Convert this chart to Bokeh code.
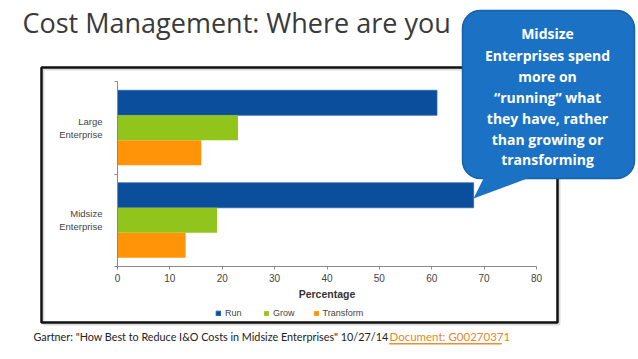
from bokeh.plotting import figure
from bokeh.models import (ColumnDataSource, Label, BoxAnnotation, Range1d,
                          PolyAnnotation, Legend, LegendItem, FixedTicker, LinearAxis)
from bokeh.transform import dodge
from bokeh.embed import file_html
from bokeh.resources import INLINE

# ---- data ----
categories = ["Large\nEnterprise", "Midsize\nEnterprise"]
run = [61, 68]
grow = [23, 19]
transform = [16, 13]
x_ticks = [0, 10, 20, 30, 40, 50, 60, 70, 80]
series_names = ["Run", "Grow", "Transform"]

title_text = "Cost Management: Where are you"
callout_lines = ["Midsize", "Enterprises spend", "more on",
                 "\u201crunning\u201d what", "they have, rather",
                 "than growing or", "transforming"]
footer_text = "Gartner:  \"How Best to Reduce I&O Costs in Midsize Enterprises\"  10/27/14"
footer_link = "Document:  G00270371"

W, H = 638, 359
# plot-area placement inside the canvas (pixels)
PL, PR, PT, PB = 117, 536, 81, 266
xmin, xmax = 0, 80
n = len(categories)
xs_per_px = (xmax - xmin) / (PR - PL)
ys_per_px = n / (PB - PT)

# canvas pixel (from top-left) -> screen units (frame == whole canvas, y up)
def sx(px):
    return px

def sy(py):
    return H - py

p = figure(width=W, height=H, output_backend="svg", toolbar_location=None,
           x_range=Range1d(xmin - PL * xs_per_px, xmax + (W - PR) * xs_per_px),
           y_range=Range1d(-(H - PB) * ys_per_px, n + PT * ys_per_px),
           x_axis_location=None, y_axis_location=None,
           min_border=0)
p.outline_line_color = None
p.xgrid.visible = False
p.ygrid.visible = False
p.background_fill_color = "white"
p.border_fill_color = "white"

pos = [n - i - 0.5 for i in range(n)]
src = ColumnDataSource(dict(pos=pos, run=run, grow=grow, transform=transform))
bh = 0.27
r_run = p.hbar(y=dodge("pos", bh), right="run", left=0, height=bh,
               source=src, fill_color="#0B4E9B", line_color="#2C69AE", line_width=0.8)
r_grow = p.hbar(y=dodge("pos", 0), right="grow", left=0, height=bh,
                source=src, fill_color="#92C51B", line_color=None)
r_tr = p.hbar(y=dodge("pos", -bh), right="transform", left=0, height=bh,
              source=src, fill_color="#FF9409", line_color=None)

# axes, fixed inside the frame
xa = LinearAxis(fixed_location=0, ticker=FixedTicker(ticks=x_ticks), bounds=(xmin, xmax))
xa.axis_line_color = "#8A8A8A"
xa.major_tick_line_color = "#8A8A8A"
xa.major_tick_out = 3
xa.major_tick_in = 0
xa.minor_tick_line_color = None
xa.major_label_text_font = "Liberation Sans"
xa.major_label_text_font_size = "10px"
xa.major_label_text_color = "#444444"
xa.major_label_standoff = 4
xa.axis_label = "Percentage"
xa.axis_label_text_font = "Liberation Sans"
xa.axis_label_text_font_style = "bold"
xa.axis_label_text_font_size = "10.5px"
xa.axis_label_text_color = "#333333"
xa.axis_label_standoff = 3
p.add_layout(xa, "below")

ya = LinearAxis(fixed_location=0, ticker=FixedTicker(ticks=pos), bounds=(0, n),
                major_label_overrides={pv: c for pv, c in zip(pos, categories)})
ya.axis_line_color = "#8A8A8A"
ya.major_tick_line_color = None
ya.minor_tick_line_color = None
ya.major_label_text_font = "Liberation Sans"
ya.major_label_text_font_size = "9.5px"
ya.major_label_text_color = "#444444"
ya.major_label_standoff = 9
p.add_layout(ya, "left")

bounds_ticks = list(range(n + 1))
yb = LinearAxis(fixed_location=0, ticker=FixedTicker(ticks=bounds_ticks), bounds=(0, n),
                major_label_overrides={t: "" for t in bounds_ticks})
yb.axis_line_color = None
yb.major_tick_line_color = "#8A8A8A"
yb.major_tick_out = 3
yb.major_tick_in = 0
yb.minor_tick_line_color = None
p.add_layout(yb, "left")

# legend
legend = Legend(items=[LegendItem(label=series_names[0], renderers=[r_run]),
                       LegendItem(label=series_names[1], renderers=[r_grow]),
                       LegendItem(label=series_names[2], renderers=[r_tr])],
                orientation="horizontal", location=(sx(215), sy(318)),
                glyph_width=6, glyph_height=6, label_text_font="Liberation Sans",
                label_text_font_size="9px", label_text_color="#444444",
                label_standoff=4, spacing=18, padding=0, margin=0,
                border_line_color=None, background_fill_alpha=0, label_height=10)
p.add_layout(legend)

# chart frame box (image border) with faint shadow
sxs = [43, 559, 559, 43]
sys_ = [69, 69, 324, 324]
p.add_layout(PolyAnnotation(xs=[sx(v) for v in sxs], ys=[sy(v) for v in sys_],
                            xs_units="screen", ys_units="screen",
                            fill_alpha=0, line_color="#CCCCCC", line_alpha=0.7,
                            line_width=2))
bx = [41, 557, 557, 41]
by = [67, 67, 322, 322]
p.add_layout(PolyAnnotation(xs=[sx(v) for v in bx], ys=[sy(v) for v in by],
                            xs_units="screen", ys_units="screen",
                            fill_color="white", fill_alpha=0, line_color="#111111",
                            line_alpha=1, line_width=2.5))

# title
p.add_layout(Label(x=sx(22), y=sy(22), x_units="screen", y_units="screen",
                   text=title_text, text_font="Open Sans", text_font_size="27px",
                   text_color="#3A3A3A", text_baseline="middle"))

# callout
p.add_layout(BoxAnnotation(left=sx(462), right=sx(634), top=sy(10), bottom=sy(178),
                           left_units="screen", right_units="screen",
                           top_units="screen", bottom_units="screen",
                           fill_color="#1B72C4", fill_alpha=1, line_color="#1462AB",
                           line_alpha=1, line_width=1.5, border_radius=18))
p.add_layout(PolyAnnotation(xs=[sx(484), sx(532), sx(473)], ys=[sy(176), sy(176), sy(198)],
                            xs_units="screen", ys_units="screen",
                            fill_color="#1B72C4", fill_alpha=1, line_color=None))
centers = [33, 55, 76, 97, 118, 139, 159]
for line, cy in zip(callout_lines, centers):
    p.add_layout(Label(x=sx(547), y=sy(cy), x_units="screen", y_units="screen",
                       text=line, text_font="Open Sans", text_font_style="bold",
                       text_font_size="14px", text_color="white",
                       text_align="center", text_baseline="middle"))

# footer
p.add_layout(Label(x=sx(33), y=sy(336), x_units="screen", y_units="screen",
                   text=footer_text, text_font="Lato", text_font_size="10.8px",
                   text_color="#222222", text_baseline="middle"))
p.add_layout(Label(x=sx(389), y=sy(336), x_units="screen", y_units="screen",
                   text=footer_link, text_font="Lato", text_font_size="11.5px",
                   text_color="#E8862A", text_baseline="middle"))
ux = [389, 501, 501, 389]
uy = [343, 343, 343.6, 343.6]
p.add_layout(PolyAnnotation(xs=[sx(v) for v in ux], ys=[sy(v) for v in uy],
                            xs_units="screen", ys_units="screen",
                            fill_color="#E8862A", fill_alpha=1,
                            line_color="#E8862A", line_alpha=1, line_width=0.8))

open("out.html", "w").write(file_html(p, INLINE))
